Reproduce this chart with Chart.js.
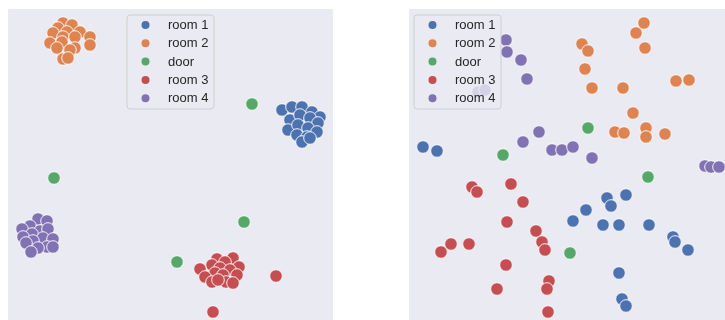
<!DOCTYPE html>
<html>
<head>
<meta charset="utf-8">
<script src="https://cdn.jsdelivr.net/npm/chart.js@4/dist/chart.umd.min.js"></script>
<style>
  html, body { margin: 0; padding: 0; background: #ffffff; width: 725px; height: 320px; overflow: hidden; }
  canvas { position: absolute; }
  #left { left: 8px; top: 9px; }
  #right { left: 409px; top: 9px; }
</style>
</head>
<body>
<canvas id="left" width="325" height="311"></canvas>
<canvas id="right" width="316" height="311"></canvas>
<script>
// Group labels, shared by both panels
const labels = ["room 1", "room 2", "door", "room 3", "room 4"];

// Left panel: well separated embedding (x, y pairs)
const leftRoom1X = [274, 284, 294, 304, 312, 282, 292, 302, 310, 280, 290, 300, 309, 289, 299, 294, 302];
const leftRoom1Y = [210, 213, 213, 208, 203, 200, 205, 202, 197, 190, 195, 192, 188, 185, 183, 178, 182];
const leftRoom2X = [55, 64, 50, 72, 82, 45, 59, 55, 67, 42, 54, 82, 67, 49, 62, 55, 60];
const leftRoom2Y = [297, 295, 292, 288, 283, 287, 288, 283, 283, 277, 278, 275, 272, 272, 270, 261, 262];
const leftDoorX = [244, 46, 236, 169];
const leftDoorY = [216, 142, 98, 58];
const leftRoom3X = [209, 225, 217, 204, 231, 192, 212, 222, 207, 197, 215, 229, 204, 218, 225, 210, 268, 205];
const leftRoom3Y = [61, 62, 58, 55, 53, 51, 52, 50, 47, 43, 45, 45, 38, 38, 37, 40, 44, 8];
const leftRoom4X = [30, 39, 22, 14, 32, 40, 24, 15, 35, 45, 25, 18, 39, 45, 30, 23];
const leftRoom4Y = [101, 99, 94, 91, 89, 91, 86, 83, 82, 81, 79, 77, 73, 73, 72, 68];

// Right panel: overlapping embedding (x, y pairs)
const rightRoom1X = [14, 28, 198, 202, 217, 177, 164, 194, 210, 240, 264, 266, 279, 210, 213, 217];
const rightRoom1Y = [173, 169, 122, 114, 125, 110, 99, 95, 95, 95, 83, 78, 70, 47, 21, 14];
const rightRoom2X = [235, 227, 173, 179, 236, 176, 267, 280, 183, 214, 224, 206, 215, 237, 237, 256];
const rightRoom2Y = [297, 287, 276, 269, 272, 251, 239, 240, 232, 232, 207, 188, 187, 192, 183, 186];
const rightDoorX = [179, 94, 239, 161];
const rightDoorY = [192, 165, 143, 67];
const rightRoom3X = [63, 68, 102, 114, 98, 127, 133, 136, 42, 32, 60, 97, 88, 140, 138, 139];
const rightRoom3Y = [133, 128, 136, 118, 98, 89, 78, 70, 76, 68, 76, 55, 31, 39, 31, 8];
const rightRoom4X = [97, 98, 112, 118, 69, 76, 130, 114, 143, 153, 164, 183, 296, 302, 310];
const rightRoom4Y = [280, 268, 260, 241, 228, 230, 188, 178, 170, 170, 173, 162, 154, 153, 153];

const palette = ["#4C72B0", "#DD8452", "#55A868", "#C44E52", "#8172B3"];

function pairs(xs, ys) {
  return xs.map((x, i) => ({ x: x, y: ys[i] }));
}

// Fills the plotting area with the panel colour
const panelBackground = {
  id: "panelBackground",
  beforeDraw(chart) {
    const { ctx, chartArea: a } = chart;
    ctx.save();
    ctx.fillStyle = "#EAEAF2";
    ctx.fillRect(a.left, a.top, a.right - a.left, a.bottom - a.top);
    ctx.restore();
  }
};

// Framed legend drawn inside the plotting area on top of the points
const framedLegend = {
  id: "framedLegend",
  afterDatasetsDraw(chart, args, opts) {
    const ctx = chart.ctx;
    const a = chart.chartArea;
    const bx = a.left + opts.x, by = a.top + opts.y;
    const bw = opts.width, bh = opts.height, r = 3;
    ctx.save();
    ctx.beginPath();
    ctx.moveTo(bx + r, by);
    ctx.arcTo(bx + bw, by, bx + bw, by + bh, r);
    ctx.arcTo(bx + bw, by + bh, bx, by + bh, r);
    ctx.arcTo(bx, by + bh, bx, by, r);
    ctx.arcTo(bx, by, bx + bw, by, r);
    ctx.closePath();
    ctx.fillStyle = "rgba(234,234,242,0.8)";
    ctx.fill();
    ctx.strokeStyle = "rgba(204,204,204,0.9)";
    ctx.lineWidth = 1;
    ctx.stroke();

    ctx.font = "13px 'Liberation Sans', Arial, sans-serif";
    ctx.textBaseline = "middle";
    chart.data.datasets.forEach((ds, i) => {
      const cy = by + 10 + i * 18.3;
      ctx.beginPath();
      ctx.arc(bx + 18.5, cy, 4, 0, Math.PI * 2);
      ctx.fillStyle = ds.backgroundColor;
      ctx.fill();
      ctx.fillStyle = "#262626";
      ctx.fillText(ds.label, bx + 41, cy + 0.5);
    });
    ctx.restore();
  }
};

function makePanel(id, series, xMax, yMax, legendX) {
  const datasets = series.map((s, i) => ({
    label: labels[i],
    data: pairs(s[0], s[1]),
    backgroundColor: palette[i],
    borderColor: "#ffffff",
    borderWidth: 0.9,
    pointRadius: 6.3,
    pointHoverRadius: 6.3,
    clip: false
  }));
  return new Chart(document.getElementById(id), {
    type: "scatter",
    data: { datasets: datasets },
    options: {
      responsive: false,
      animation: false,
      devicePixelRatio: 1,
      layout: { padding: 0, autoPadding: false },
      plugins: {
        legend: { display: false },
        tooltip: { enabled: false },
        framedLegend: { x: legendX, y: 6, width: 87, height: 94 }
      },
      scales: {
        x: { type: "linear", min: 0, max: xMax, display: false },
        y: { type: "linear", min: 0, max: yMax, display: false }
      }
    },
    plugins: [panelBackground, framedLegend]
  });
}

makePanel("left", [
  [leftRoom1X, leftRoom1Y],
  [leftRoom2X, leftRoom2Y],
  [leftDoorX, leftDoorY],
  [leftRoom3X, leftRoom3Y],
  [leftRoom4X, leftRoom4Y]
], 325, 311, 119);

makePanel("right", [
  [rightRoom1X, rightRoom1Y],
  [rightRoom2X, rightRoom2Y],
  [rightDoorX, rightDoorY],
  [rightRoom3X, rightRoom3Y],
  [rightRoom4X, rightRoom4Y]
], 316, 311, 5);
</script>
</body>
</html>
